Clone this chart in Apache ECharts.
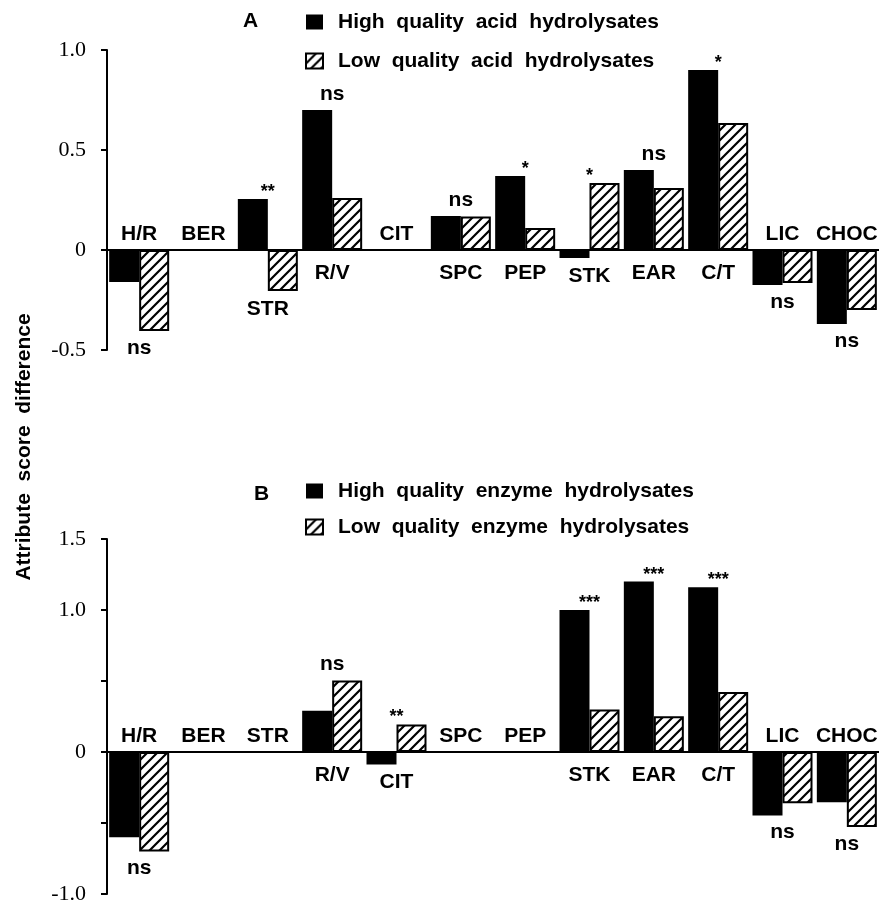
<!DOCTYPE html>
<html>
<head>
<meta charset="utf-8">
<script src="https://cdn.jsdelivr.net/npm/echarts@6/dist/echarts.min.js"></script>
<style>html,body{margin:0;padding:0;background:#fff}#c{width:879px;height:905px}</style>
</head>
<body>
<div id="c"></div>
<script>
var categories = ['H/R','BER','STR','R/V','CIT','SPC','PEP','STK','EAR','C/T','LIC','CHOC'];
var acidHigh = [-0.16, 0, 0.255, 0.70, 0, 0.17, 0.37, -0.04, 0.40, 0.90, -0.175, -0.37];
var acidLow  = [-0.405, 0, -0.205, 0.26, 0, 0.167, 0.11, 0.335, 0.31, 0.635, -0.165, -0.30];
var acidSig  = ['ns','','**','ns','','ns','*','*','ns','*','ns','ns'];
var enzHigh  = [-0.60, 0, 0, 0.29, -0.088, 0, 0, 1.00, 1.20, 1.16, -0.448, -0.354];
var enzLow   = [-0.70, 0, 0, 0.504, 0.194, 0, 0, 0.30, 0.252, 0.423, -0.361, -0.529];
var enzSig   = ['ns','','','ns','**','','','***','***','***','ns','ns'];
var ticksA = [1.0, 0.5, 0, -0.5];
var ticksB = [1.5, 1.0, 0, -1.0];

var SANS = '"Liberation Sans", Arial, Helvetica, sans-serif';
var SERIF = '"Liberation Serif", "Times New Roman", serif';

// hatch pattern
var pc = document.createElement('canvas');
pc.width = 10; pc.height = 10;
var g = pc.getContext('2d');
g.fillStyle = '#fff'; g.fillRect(0,0,10,10);
g.strokeStyle = '#000'; g.lineWidth = 2.2; g.lineCap = 'square';
g.beginPath();
g.moveTo(0,10); g.lineTo(10,0);
g.moveTo(-2,2); g.lineTo(2,-2);
g.moveTo(8,12); g.lineTo(12,8);
g.stroke();
var hatch = {image: pc, repeat: 'repeat'};

function annoRender(hi, lo, sig) {
  return function (params, api) {
    var i = params.dataIndex;
    var h = hi[i], l = lo[i];
    var mx = Math.max(h, l, 0), mn = Math.min(h, l, 0);
    var z = api.coord([i, 0]);
    var top = api.coord([i, mx])[1];
    var bot = api.coord([i, mn])[1];
    var up = Math.max(h, l) > 0;
    var kids = [];
    var cy = up ? Math.max(z[1] + 23, bot + 18) : z[1] - 16;
    kids.push({type: 'text', style: {text: categories[i], x: z[0], y: cy, align: 'center', verticalAlign: 'middle',
      font: 'bold 21px ' + SANS, fill: '#000'}});
    var s = sig[i];
    if (s) {
      var star = s.indexOf('*') >= 0;
      var sy;
      if (up) sy = star ? top - 7 : top - 16;
      else sy = bot + 17;
      kids.push({type: 'text', style: {text: s, x: z[0], y: sy, align: 'center', verticalAlign: 'middle',
        font: (star ? 'bold 18px ' : 'bold 21px ') + SANS, fill: '#000'}});
    }
    return {type: 'group', children: kids};
  };
}

function annoData(hi, lo) {
  return categories.map(function (c, i) { return [i, hi[i], lo[i]]; });
}

function yAxisCfg(gi, min, max, shown) {
  return {
    type: 'value', gridIndex: gi, min: min, max: max, interval: 0.5,
    splitLine: {show: false},
    axisLine: {show: true, lineStyle: {color: '#000', width: 2}},
    axisTick: {show: true, length: 6, lineStyle: {color: '#000', width: 2}},
    axisLabel: {
      margin: 21, color: '#000', fontFamily: SERIF, fontSize: 22,
      formatter: function (v) {
        for (var k = 0; k < shown.length; k++) {
          if (Math.abs(shown[k] - v) < 1e-9) return v === 0 ? '0' : v.toFixed(1);
        }
        return '';
      }
    }
  };
}

function xAxisCfg(gi) {
  return {
    type: 'category', gridIndex: gi, data: categories,
    axisLine: {show: true, onZero: true, lineStyle: {color: '#000', width: 2}},
    axisTick: {show: false}, axisLabel: {show: false}, splitLine: {show: false}
  };
}

var legendBase = {
  orient: 'vertical', left: 300, icon: 'rect', itemWidth: 17, itemHeight: 15, itemGap: 15,
  textStyle: {fontFamily: SANS, fontWeight: 'bold', fontSize: 21, color: '#000', lineHeight: 24, padding: [0,0,0,10]},
  selectedMode: false
};

var option = {
  animation: false,
  backgroundColor: '#fff',
  title: [
    {text: 'A', left: 238, top: 6, textStyle: {fontFamily: SANS, fontWeight: 'bold', fontSize: 21, color: '#000'}},
    {text: 'B', left: 249, top: 479, textStyle: {fontFamily: SANS, fontWeight: 'bold', fontSize: 21, color: '#000'}}
  ],
  legend: [
    Object.assign({}, legendBase, {top: 5, data: ['High  quality  acid  hydrolysates', 'Low  quality  acid  hydrolysates']}),
    Object.assign({}, legendBase, {top: 474, itemGap: 12, data: ['High  quality  enzyme  hydrolysates', 'Low  quality  enzyme  hydrolysates']})
  ],
  graphic: [{
    type: 'text', x: 24, y: 447, rotation: Math.PI / 2,
    style: {text: 'Attribute  score  difference', align: 'center', verticalAlign: 'middle',
      font: 'bold 21px ' + SANS, fill: '#000'}
  }],
  grid: [
    {left: 107, right: 0, top: 50, height: 300},
    {left: 107, right: 0, top: 539, height: 357}
  ],
  xAxis: [xAxisCfg(0), xAxisCfg(1)],
  yAxis: [yAxisCfg(0, -0.5, 1.0, ticksA), yAxisCfg(1, -1.0, 1.5, ticksB)],
  series: [
    {name: 'High  quality  acid  hydrolysates', type: 'bar', xAxisIndex: 0, yAxisIndex: 0, data: acidHigh,
      barWidth: 30, barGap: '0%', itemStyle: {color: '#000'}},
    {name: 'Low  quality  acid  hydrolysates', type: 'bar', xAxisIndex: 0, yAxisIndex: 0, data: acidLow,
      barWidth: 30, barGap: '0%', itemStyle: {color: hatch, borderColor: '#000', borderWidth: 2}},
    {name: 'High  quality  enzyme  hydrolysates', type: 'bar', xAxisIndex: 1, yAxisIndex: 1, data: enzHigh,
      barWidth: 30, barGap: '0%', itemStyle: {color: '#000'}},
    {name: 'Low  quality  enzyme  hydrolysates', type: 'bar', xAxisIndex: 1, yAxisIndex: 1, data: enzLow,
      barWidth: 30, barGap: '0%', itemStyle: {color: hatch, borderColor: '#000', borderWidth: 2}},
    {type: 'custom', xAxisIndex: 0, yAxisIndex: 0, data: annoData(acidHigh, acidLow), silent: true,
      encode: {x: 0, y: [1, 2]}, renderItem: annoRender(acidHigh, acidLow, acidSig), z: 5},
    {type: 'custom', xAxisIndex: 1, yAxisIndex: 1, data: annoData(enzHigh, enzLow), silent: true,
      encode: {x: 0, y: [1, 2]}, renderItem: annoRender(enzHigh, enzLow, enzSig), z: 5}
  ]
};

var chart = echarts.init(document.getElementById('c'), null, {renderer: 'canvas'});
chart.setOption(option);
</script>
</body>
</html>
